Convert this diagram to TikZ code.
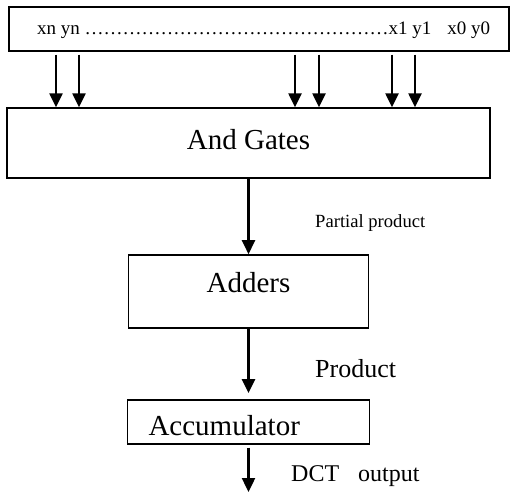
\documentclass[tikz,border=0pt]{standalone}
\usepackage{fontspec}
\setmainfont{Liberation Serif}
\usepackage{tikz}
\usetikzlibrary{arrows.meta,positioning}
\newcommand{\fourdots}{\char"2026\char"2026\char"2026\char"2026}
\tikzset{
  blockbox/.style={draw, line width=1.4pt, inner sep=0pt,
                   minimum width=#1, font=\fontsize{29}{30}\selectfont},
  blockbox/.default=240pt,
  inbox/.style   ={draw, line width=1.4pt, inner sep=0pt,
                   minimum width=500pt, minimum height=44pt,
                   text height=14pt, text depth=2pt,
                   font=\fontsize{19}{20}\selectfont},
  note/.style    ={inner sep=0pt, anchor=base west},
  arr/.style     ={-{Triangle[length=14pt,width=13pt]}, line width=2.4pt},
}

\begin{document}
\begin{tikzpicture}[x=1pt,y=1pt]
  \useasboundingbox (0,0) rectangle (510,-492);
  % input bits
  \node[inbox] (inbox) at (259,-29)
    {\hspace*{9pt}xn yn \fourdots\fourdots\fourdots\fourdots x1 y1\hspace{16pt}x0 y0};
  % blocks
  \node[blockbox=483pt, minimum height=70pt, text height=20pt,
        text depth=8pt] (gates) at (248.5,-143) {And Gates};
  \node[blockbox, minimum height=73pt, text height=20pt, text depth=17pt,
        below=75.5pt of gates] (adders) {Adders};
  \node[blockbox=242pt, minimum height=44pt, text height=28pt,
        text depth=0pt, text width=200pt, inner xsep=21pt, align=left,
        below=70.5pt of adders] (acc) {Accumulator};
  \coordinate (out) at (acc.south |- 0,-492);
  % labels
  \node[note, font=\fontsize{18.6}{20}\selectfont] (pplabel) at (315,-227) {Partial product};
  \node[note, font=\fontsize{26}{28}\selectfont] (prodlabel) at (315,-377) {Product};
  \node[note, font=\fontsize{24}{26}\selectfont] (outlabel) at (291,-481) {DCT\hspace{19pt}output};
  % arrows
  \foreach \x in {56,79,295,319,392,415}
    \draw[arr, shorten <=3pt] (inbox.south -| \x,0) -- (gates.north -| \x,0);
  \draw[arr] (gates.south) -- (adders.north);
  \draw[arr, shorten >=6pt] (adders.south) -- (acc.north);
  \draw[arr, shorten <=3pt] (acc.south) -- (out);
\end{tikzpicture}
\end{document}
